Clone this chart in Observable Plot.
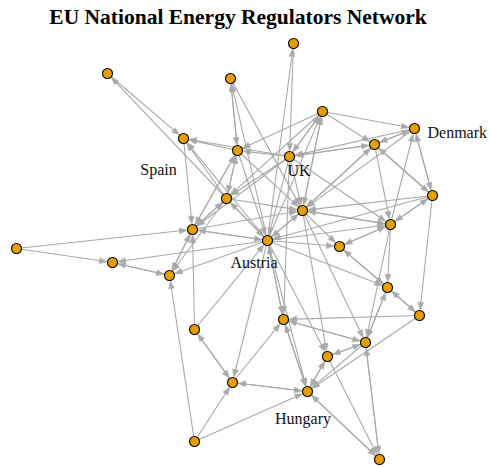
<!DOCTYPE html>
<html>
<head>
<meta charset="utf-8">
<script src="https://cdn.jsdelivr.net/npm/d3@7"></script>
<script src="https://cdn.jsdelivr.net/npm/@observablehq/plot@0.6"></script>
<style>
  html, body { margin: 0; padding: 0; background: #fff; }
</style>
</head>
<body>
<div id="chart"></div>
<script>
const title = "EU National Energy Regulators Network";

// Node layout coordinates
const nodeIds = ["A","B","C","D","E","F","G","H","I","J","K","L","M","N","O","P","Q","R","S","T","U","V","W","X","Y","Z","HU","BB","CC"];
const nodeX   = [107,230,293,183,237,289,322,374,414,432,226,302,192,267,339,390, 16,112,169,387,419,283,194,365,327,232,307,194,379];
const nodeY   = [ 73, 78, 43,138,150,156,111,144,128,195,198,210,229,240,246,224,248,262,275,287,315,319,329,342,356,382,391,441,459];

// Named nodes
const labelNodes = ["D","F","I","N","HU"];
const labelTexts = ["Spain","UK","Denmark","Austria","Hungary"];

// Directed edges
const edgeFrom = ["A","K","B","E","B","N","N","C","D","E","F","N","K",
  "G","G","G","G","F","G","L","N","G",
  "H","I","F","H","H","L","H","J","H",
  "I","J","P","I","I",
  "J","J","P","J","J",
  "F","E","K","E","M","E","E",
  "K","M","K","N","K","F","K",
  "L","N","F","F","F","F","F",
  "M","N","M","S","Q","W","M",
  "Q","R","S","N","N","BB",
  "W","Z","W",
  "N","Z","HU","Z","BB","BB",
  "N","V","V","HU","V","X","U",
  "T","X","P","X","Y","X","CC","L",
  "Y","Y","HU","L","N",
  "O","T","P","T","U","N",
  "U",
  "O","P","L","N",
  "P","L","N",
  "HU","CC","X","N"];
const edgeTo = ["D","A","E","B","L","B","C","F","M","D","D","D","D",
  "I","H","E","F","G","L","G","G","K",
  "I","H","H","F","L","H","J","H","P",
  "J","I","I","L","F",
  "L","P","J","U","N",
  "E","K","E","M","E","N","L",
  "M","K","N","K","L","K","S",
  "N","L","L","N","M","P","V",
  "N","M","S","M","M","M","L",
  "R","S","R","R","S","S",
  "Z","W","N",
  "Z","HU","Z","V","Z","HU",
  "V","N","HU","V","X","V","V",
  "X","T","X","Y","X","CC","X","X",
  "CC","HU","Y","Y","Y",
  "T","O","T","U","T","T",
  "HU",
  "P","O","O","O",
  "L","P","P",
  "CC","HU","HU","HU"];

const nodes = nodeIds.map((id, i) => ({id, x: nodeX[i], y: nodeY[i]}));
const byId = new Map(nodes.map(n => [n.id, n]));

const nodeR = 5;
const arrowLen = 7.5;
const arrowHalf = 2.8;

const edges = edgeFrom.map((s, i) => {
  const a = byId.get(s), b = byId.get(edgeTo[i]);
  const dx = b.x - a.x, dy = b.y - a.y;
  const d = Math.hypot(dx, dy);
  const ux = dx / d, uy = dy / d;
  const tip = nodeR + 0.6;
  return {
    x1: a.x, y1: a.y,
    x2: b.x - ux * (tip + arrowLen - 1), y2: b.y - uy * (tip + arrowLen - 1),
    tx: b.x - ux * tip, ty: b.y - uy * tip,
    angle: Math.atan2(dx, -dy) * 180 / Math.PI
  };
});

const labelOffsets = {
  Spain:   {dx: -25, dy: 31, anchor: "middle"},
  UK:      {dx: 9.5, dy: 14.5, anchor: "middle"},
  Denmark: {dx: 13, dy: 4, anchor: "start"},
  Austria: {dx: -13.5, dy: 22.5, anchor: "middle"},
  Hungary: {dx: -4.5, dy: 27.5, anchor: "middle"}
};

const arrowShape = {
  draw(context, l, r) {
    context.moveTo(0, 0);
    context.lineTo(-r, l);
    context.lineTo(r, l);
    context.closePath();
  }
};

const edgeColor = "#a9a9a9";

const labelMarks = labelTexts.map((t, i) => {
  const n = byId.get(labelNodes[i]);
  const o = labelOffsets[t];
  return Plot.text([n], {
    x: "x", y: "y", text: () => t,
    dx: o.dx, dy: o.dy, textAnchor: o.anchor, lineAnchor: "middle",
    fontSize: 16, fontFamily: "Liberation Serif", fill: "#111"
  });
});

const plot = Plot.plot({
  width: 490,
  height: 467,
  margin: 0,
  x: {domain: [0, 490], range: [0, 490], axis: null},
  y: {domain: [0, 467], range: [0, 467], axis: null},
  style: {fontFamily: "Liberation Serif", background: "#fff"},
  marks: [
    Plot.link(edges, {x1: "x1", y1: "y1", x2: "x2", y2: "y2", stroke: edgeColor, strokeWidth: 1.1}),
    Plot.vector(edges, {x: "tx", y: "ty", rotate: "angle", length: arrowLen, r: arrowHalf,
      shape: arrowShape, anchor: "start", fill: edgeColor, stroke: edgeColor, strokeWidth: 0.5}),
    Plot.dot(nodes, {x: "x", y: "y", r: nodeR, fill: "#E69F00", stroke: "#000", strokeWidth: 1.1}),
    ...labelMarks,
    Plot.text([title], {frameAnchor: "top", text: d => d, dx: -7.5, dy: 23.5, lineAnchor: "bottom",
      fontSize: 21.5, fontWeight: "bold", fontFamily: "Liberation Serif", fill: "#000"})
  ]
});

document.getElementById("chart").appendChild(plot);
</script>
</body>
</html>
